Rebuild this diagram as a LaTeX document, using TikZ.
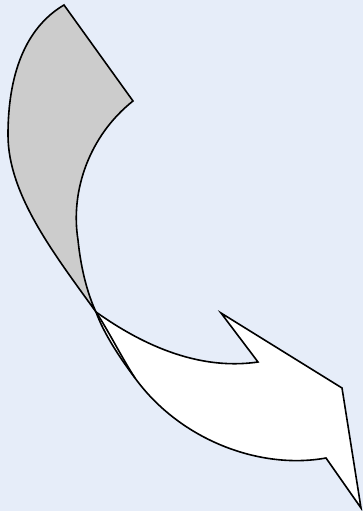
\documentclass[tikz,border=0pt]{standalone}
\usepackage{tikz}
\definecolor{bgblue}{RGB}{230,237,249}
\definecolor{backgray}{RGB}{204,204,204}
\tikzset{
	ribbon/.style={draw=black, line width=1.6pt, line join=miter},
}
\begin{document}
\begin{tikzpicture}[x=1pt, y=-1pt]
		\fill[bgblue] (0,0) rectangle (363,511);
		\useasboundingbox (0,0) rectangle (363,511);
		% key points
		\coordinate (top) at (64,5);
		\coordinate (notch) at (133,101);
		\coordinate (cross) at (96,312);
		\coordinate (merge) at (135,378);
		\coordinate (tail) at (326,458);
		% front face of the arrow
		\filldraw[ribbon, fill=white] (cross) .. controls (130,336) and (190,372) .. (258,362)
			-- (221,313) -- (342,388) -- (361,508) -- (tail)
			.. controls (260,470) and (180,440) .. (merge)
			.. controls (120,358) and (104,334) .. (cross) -- cycle;
		% back face
		\filldraw[ribbon, fill=backgray] (top) -- (notch)
			.. controls (90,135) and (70,190) .. (78,240)
			.. controls (81,270) and (88,295) .. (cross)
			.. controls (55,255) and (8,195) .. (8,135)
			.. controls (8,75) and (25,28) .. (top) -- cycle;
		% outer edge running on over the front face
		\draw[ribbon] (cross) .. controls (108,330) and (122,358) .. (merge);
	\end{tikzpicture}
\end{document}
